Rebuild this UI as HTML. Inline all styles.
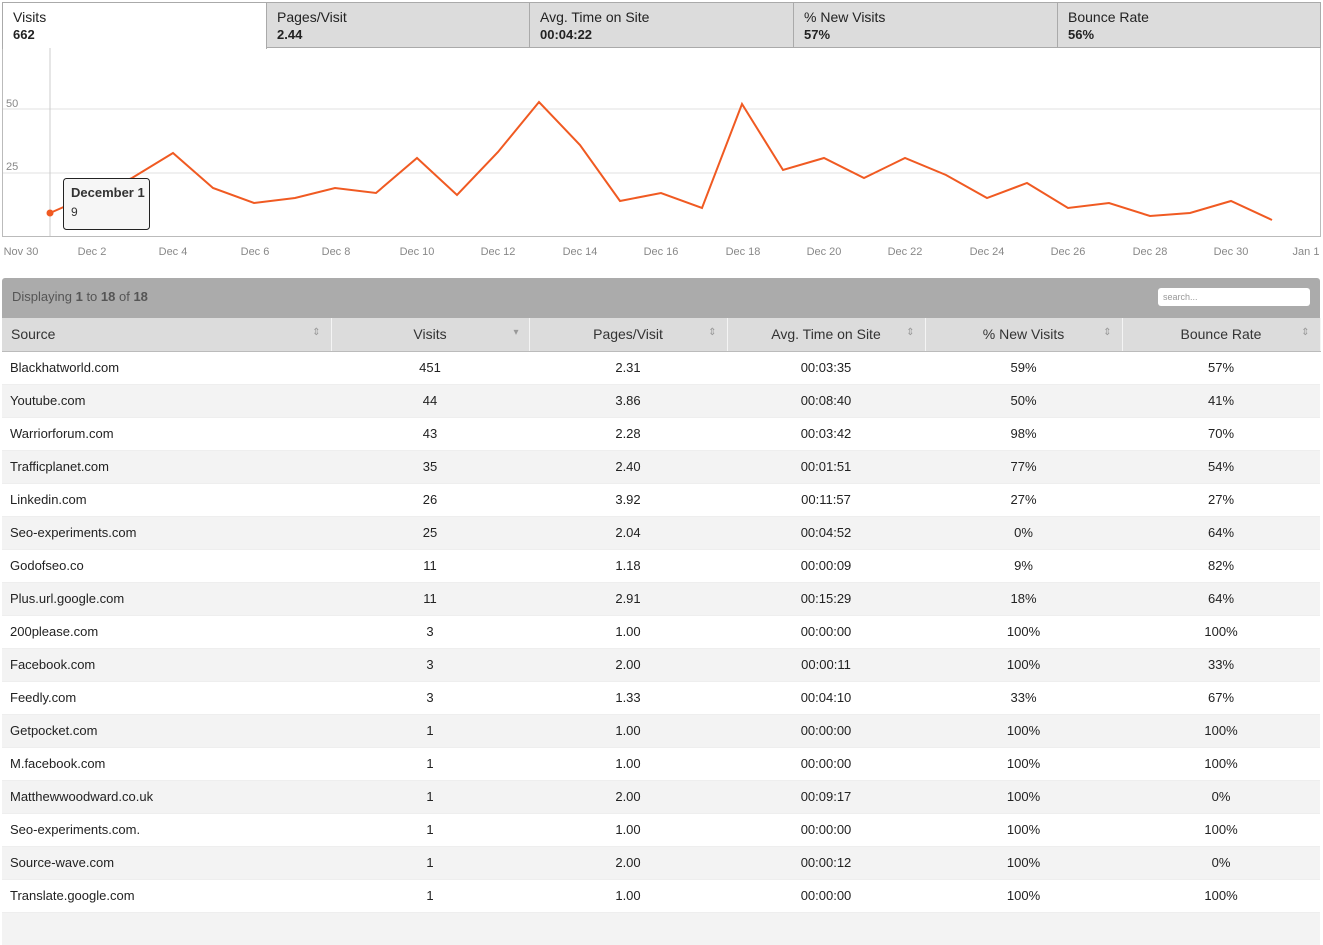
<!DOCTYPE html>
<html><head><style>
body{margin:0;width:1323px;height:918px;background:#fff;font-family:"Liberation Sans",sans-serif;position:relative;overflow:hidden}
.tab{position:absolute;top:2px;height:46px;background:#dcdcdc;border:1px solid #aaa;box-sizing:border-box;padding:6px 10px;font-size:14px;color:#222;line-height:17px}
.tab b{font-size:13px}
.tab.on{background:#fff;border-bottom:none;height:47px}
table{position:absolute;left:2px;top:318px;width:1318px;border-collapse:collapse;table-layout:fixed;font-size:13px;color:#222}
th{height:33px;box-sizing:border-box;background:#dcdcdc;font-weight:normal;font-size:14px;color:#333;border-right:1px solid #f4f4f4;border-bottom:1px solid #bbb;position:relative;padding:0}
td{height:33px;box-sizing:border-box;text-align:center;padding:0;border-top:1px solid #eee}
tbody tr:nth-child(even) td{background:#f3f3f3}
td:first-child{text-align:left;padding-left:8px}
.s{position:absolute;right:10px;top:9px;font-size:10px;color:#999}
</style></head><body>
<div style="position:absolute;left:2px;top:2px;width:1319px;height:235px;border:1px solid #bbb;border-top:none;box-sizing:border-box"></div>
<div class="tab on" style="left:2px;width:265px">Visits<br><b>662</b></div>
<div class="tab" style="left:266px;width:264px">Pages/Visit<br><b>2.44</b></div>
<div class="tab" style="left:529px;width:265px">Avg. Time on Site<br><b>00:04:22</b></div>
<div class="tab" style="left:793px;width:265px">% New Visits<br><b>57%</b></div>
<div class="tab" style="left:1057px;width:264px">Bounce Rate<br><b>56%</b></div>
<svg style="position:absolute;left:0;top:0" width="1323" height="260">
<line x1="3" y1="109" x2="1320" y2="109" stroke="#e2e2e2"/>
<line x1="3" y1="173" x2="1320" y2="173" stroke="#e2e2e2"/>
<line x1="50" y1="48" x2="50" y2="236" stroke="#ccc"/>
<polyline fill="none" stroke="#f05a22" stroke-width="2" points="50,213 91,195 132,178 173,153 213,188 254,203 295,198 335,188 376,193 417,158 457,195 498,152 539,102 580,145 620,201 661,193 702,208 742,104 783,170 824,158 864,178 905,158 946,175 987,198 1027,183 1068,208 1109,203 1150,216 1190,213 1231,201 1272,220"/>
<circle cx="50" cy="213" r="3.5" fill="#f05a22"/>
<rect x="63.5" y="178.5" width="86" height="51" rx="3" fill="#f6f6f6" stroke="#222"/>
<text x="71" y="197" font-family="Liberation Sans" font-size="13" font-weight="bold" fill="#333">December 1</text>
<text x="71" y="216" font-family="Liberation Sans" font-size="12" fill="#333">9</text>
<g font-family="Liberation Sans" font-size="11" fill="#888" text-anchor="middle">
<text x="6" y="107" text-anchor="start">50</text><text x="6" y="170" text-anchor="start">25</text>
<text x="21" y="255">Nov 30</text><text x="92" y="255">Dec 2</text><text x="173" y="255">Dec 4</text><text x="255" y="255">Dec 6</text><text x="336" y="255">Dec 8</text><text x="417" y="255">Dec 10</text><text x="498" y="255">Dec 12</text><text x="580" y="255">Dec 14</text><text x="661" y="255">Dec 16</text><text x="743" y="255">Dec 18</text><text x="824" y="255">Dec 20</text><text x="905" y="255">Dec 22</text><text x="987" y="255">Dec 24</text><text x="1068" y="255">Dec 26</text><text x="1150" y="255">Dec 28</text><text x="1231" y="255">Dec 30</text><text x="1306" y="255">Jan 1</text>
</g></svg>
<div style="position:absolute;left:2px;top:278px;width:1318px;height:40px;background:#ababab;border-radius:3px 3px 0 0;font-size:13px;color:#555;line-height:38px;box-sizing:border-box;padding-left:10px">Displaying <b>1</b> to <b>18</b> of <b>18</b>
<div style="position:absolute;right:10px;top:10px;width:152px;height:18px;background:#fff;border-radius:3px;font-size:9px;color:#999;line-height:18px;padding-left:5px;box-sizing:border-box">search...</div></div>
<table>
<colgroup><col style="width:329px"><col style="width:198px"><col style="width:198px"><col style="width:198px"><col style="width:197px"><col style="width:198px"></colgroup>
<thead><tr><th style="text-align:left;padding-left:9px">Source<span class="s">⇕</span></th><th>Visits<span class="s">▾</span></th><th>Pages/Visit<span class="s">⇕</span></th><th>Avg. Time on Site<span class="s">⇕</span></th><th>% New Visits<span class="s">⇕</span></th><th>Bounce Rate<span class="s">⇕</span></th></tr></thead>
<tbody>
<tr><td>Blackhatworld.com</td><td>451</td><td>2.31</td><td>00:03:35</td><td>59%</td><td>57%</td></tr>
<tr><td>Youtube.com</td><td>44</td><td>3.86</td><td>00:08:40</td><td>50%</td><td>41%</td></tr>
<tr><td>Warriorforum.com</td><td>43</td><td>2.28</td><td>00:03:42</td><td>98%</td><td>70%</td></tr>
<tr><td>Trafficplanet.com</td><td>35</td><td>2.40</td><td>00:01:51</td><td>77%</td><td>54%</td></tr>
<tr><td>Linkedin.com</td><td>26</td><td>3.92</td><td>00:11:57</td><td>27%</td><td>27%</td></tr>
<tr><td>Seo-experiments.com</td><td>25</td><td>2.04</td><td>00:04:52</td><td>0%</td><td>64%</td></tr>
<tr><td>Godofseo.co</td><td>11</td><td>1.18</td><td>00:00:09</td><td>9%</td><td>82%</td></tr>
<tr><td>Plus.url.google.com</td><td>11</td><td>2.91</td><td>00:15:29</td><td>18%</td><td>64%</td></tr>
<tr><td>200please.com</td><td>3</td><td>1.00</td><td>00:00:00</td><td>100%</td><td>100%</td></tr>
<tr><td>Facebook.com</td><td>3</td><td>2.00</td><td>00:00:11</td><td>100%</td><td>33%</td></tr>
<tr><td>Feedly.com</td><td>3</td><td>1.33</td><td>00:04:10</td><td>33%</td><td>67%</td></tr>
<tr><td>Getpocket.com</td><td>1</td><td>1.00</td><td>00:00:00</td><td>100%</td><td>100%</td></tr>
<tr><td>M.facebook.com</td><td>1</td><td>1.00</td><td>00:00:00</td><td>100%</td><td>100%</td></tr>
<tr><td>Matthewwoodward.co.uk</td><td>1</td><td>2.00</td><td>00:09:17</td><td>100%</td><td>0%</td></tr>
<tr><td>Seo-experiments.com.</td><td>1</td><td>1.00</td><td>00:00:00</td><td>100%</td><td>100%</td></tr>
<tr><td>Source-wave.com</td><td>1</td><td>2.00</td><td>00:00:12</td><td>100%</td><td>0%</td></tr>
<tr><td>Translate.google.com</td><td>1</td><td>1.00</td><td>00:00:00</td><td>100%</td><td>100%</td></tr>
<tr><td></td><td></td><td></td><td></td><td></td><td></td></tr>
</tbody>
</table>
</body></html>
